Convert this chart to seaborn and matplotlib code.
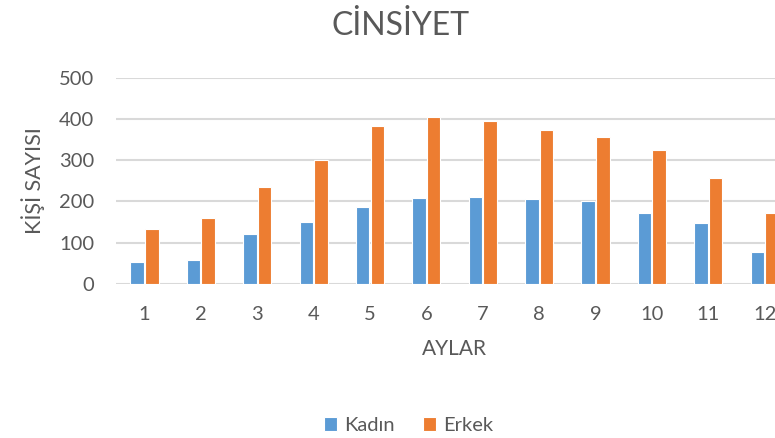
import numpy as np
import pandas as pd
import matplotlib
matplotlib.use('Agg')
import matplotlib.pyplot as plt
import seaborn as sns

# aylara gore kisi sayilari
aylar = [str(i) for i in range(1, 13)]
kadin = [54, 59, 122, 150, 187, 208, 212, 206, 200, 172, 147, 78]
erkek = [134, 159, 234, 300, 384, 406, 396, 374, 356, 325, 256, 172]
seriler = ['Kadın', 'Erkek']
renkler = ['#5B9BD5', '#ED7D31']

df = pd.DataFrame({
    'ay': aylar * 2,
    'sayi': kadin + erkek,
    'cinsiyet': [seriler[0]] * 12 + [seriler[1]] * 12,
})

sns.set_style('white')
plt.rcParams['font.family'] = ['Lato', 'DejaVu Sans']

fig = plt.figure(figsize=(7.75, 4.38), dpi=100)
ax = fig.add_axes([0.150, 0.352, 0.873, 0.470])

sns.barplot(data=df, x='ay', y='sayi', hue='cinsiyet', palette=renkler,
            saturation=1, width=0.52, gap=0.08, edgecolor='white',
            linewidth=0.8, ax=ax, legend=True)

ax.set_ylim(0, 500)
ax.set_yticks([0, 100, 200, 300, 400, 500])
ax.set_xlim(-0.5, 11.5)
ax.yaxis.grid(True, color='#d9d9d9', linewidth=1.5)
ax.set_axisbelow(True)
for s in ax.spines.values():
    s.set_visible(False)
ax.tick_params(axis='both', length=0, labelsize=14.5, labelcolor='#595959')
ax.tick_params(axis='x', pad=16)
ax.tick_params(axis='y', pad=16)

ax.set_xlabel('AYLAR', fontsize=15, color='#595959')
ax.xaxis.set_label_coords(0.5, -0.27)
ax.set_ylabel('KİŞİ SAYISI', fontsize=15.5, color='#595959')
ax.yaxis.set_label_coords(-0.105, 0.5)

fig.text(0.517, 0.94, 'CİNSİYET', ha='center', va='center',
         fontsize=23, color='#595959',
         family=['Liberation Sans Narrow', 'Lato', 'DejaVu Sans'])

h, l = ax.get_legend_handles_labels()
ax.get_legend().remove()
fig.legend(h, l, loc='center', bbox_to_anchor=(0.527, 0.028), ncol=2,
           frameon=False, fontsize=14.5, labelcolor='#595959',
           handlelength=0.65, handleheight=0.65, handletextpad=0.35,
           columnspacing=1.4)

fig.savefig('out.png', dpi=100)
